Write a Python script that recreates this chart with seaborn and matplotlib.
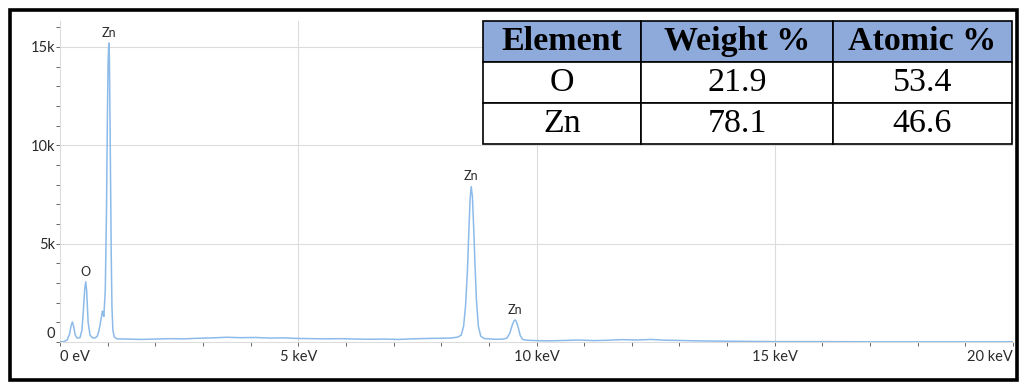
import numpy as np
import pandas as pd
import matplotlib
matplotlib.use("Agg")
import matplotlib.pyplot as plt
from matplotlib import font_manager
from matplotlib.patches import Rectangle
from matplotlib.transforms import ScaledTranslation
from matplotlib.ticker import MultipleLocator, FuncFormatter
import seaborn as sns

# EDS spectrum: energy (keV) and counts (thousands)
energy_kev = [
    0.0, 0.08, 0.15, 0.2, 0.23, 0.26, 0.29, 0.32, 0.36, 0.42, 0.46, 0.49,
    0.52, 0.54, 0.56, 0.59, 0.63, 0.68, 0.73, 0.78, 0.82, 0.85, 0.875, 0.89,
    0.905, 0.92, 0.95, 0.975, 0.995, 1.01, 1.025, 1.035, 1.045, 1.06, 1.075,
    1.09, 1.11, 1.14, 1.2, 1.4, 1.7, 2.0, 2.3, 2.6, 2.9, 3.2, 3.5, 3.8, 4.1,
    4.4, 4.7, 5.0, 5.3, 5.6, 5.9, 6.2, 6.5, 6.8, 7.1, 7.4, 7.7, 8.0, 8.2,
    8.35, 8.42, 8.47, 8.51, 8.55, 8.58, 8.605, 8.63, 8.655, 8.68, 8.71, 8.74,
    8.78, 8.83, 8.9, 9.0, 9.1, 9.2, 9.3, 9.38, 9.44, 9.49, 9.53, 9.555, 9.58,
    9.62, 9.66, 9.71, 9.8, 10.0, 10.3, 10.6, 10.9, 11.2, 11.5, 11.8, 12.1,
    12.4, 12.7, 13.0, 13.3, 13.6, 14.0, 14.5, 15.0, 16.0, 17.0, 18.0, 19.0,
    20.0,
]
counts_k = [
    0.0, 0.02, 0.1, 0.4, 0.8, 1.02, 0.75, 0.35, 0.2, 0.22, 0.6, 1.6,
    2.7, 3.06, 2.6, 1.0, 0.35, 0.22, 0.2, 0.28, 0.6, 1.0, 1.35, 1.57,
    1.45, 1.3, 2.6, 6.5, 11.5, 14.3, 15.2, 14.6, 12.5, 8.5, 4.5,
    1.8, 0.6, 0.25, 0.16, 0.15, 0.13, 0.15, 0.17, 0.16, 0.19, 0.21, 0.24, 0.22, 0.23,
    0.2, 0.21, 0.18, 0.17, 0.16, 0.17, 0.15, 0.14, 0.15, 0.13, 0.16, 0.18, 0.19, 0.2,
    0.25, 0.35, 0.8, 1.8, 3.6, 5.6, 7.2, 7.9, 7.4, 5.9, 3.9, 2.1,
    0.8, 0.3, 0.18, 0.16, 0.14, 0.14, 0.15, 0.2, 0.45, 0.85, 1.08, 1.12, 1.02,
    0.7, 0.32, 0.13, 0.09, 0.07, 0.06, 0.08, 0.1, 0.07, 0.09, 0.12, 0.1,
    0.13, 0.09, 0.08, 0.06, 0.05, 0.04, 0.03, 0.02, 0.02, 0.01, 0.01, 0.01,
    0.01,
]

# Peak identifications
peak_names = ["Zn", "O", "Zn", "Zn"]
peak_energy = [1.025, 0.54, 8.63, 9.555]

# Quantification table
elements = ["O", "Zn"]
weight_pct = ["21.9", "78.1"]
atomic_pct = ["53.4", "46.6"]
table_header = ["Element", "Weight %", "Atomic %"]

x_major = [0, 5, 10, 15, 20]
x_labels = ["0 eV", "5 keV", "10 keV", "15 keV", "20 keV"]
y_major = [0, 5, 10, 15]

sns.set_theme(style="white")
installed = {f.name for f in font_manager.fontManager.ttflist}
narrow = "Liberation Sans Narrow" if "Liberation Sans Narrow" in installed else "Lato"
plt.rcParams["font.family"] = [narrow, "DejaVu Sans"]

W, H = 1023, 388
fig = plt.figure(figsize=(W / 100, H / 100), dpi=100)
fig.patch.set_facecolor("white")

ax = fig.add_axes([60 / W, 46 / H, 953 / W, 320.6 / H])
ax.set_xlim(0, 20)
ax.set_ylim(0, 16.3)

spec = pd.DataFrame({"energy": energy_kev, "counts": counts_k})

grid_c = "#dcdcdc"
for xv in x_major[1:]:
    ax.axvline(xv, color=grid_c, lw=0.8, zorder=0)
for yv in y_major[1:]:
    ax.axhline(yv, color=grid_c, lw=0.8, zorder=0)

sns.lineplot(data=spec, x="energy", y="counts", ax=ax, color="#8cbbea",
             lw=1.1, zorder=3)

for name, e in zip(peak_names, peak_energy):
    idx = int(np.argmin(np.abs(np.array(energy_kev) - e)))
    ax.annotate(name, (energy_kev[idx], counts_k[idx]), xytext=(0, 3),
                textcoords="offset points", ha="center", va="bottom",
                fontsize=9, color="#2a2a2a")

for side in ["top", "right"]:
    ax.spines[side].set_visible(False)
ax.spines["left"].set_color(grid_c)
ax.spines["left"].set_linewidth(0.8)
ax.spines["bottom"].set_color(grid_c)
ax.spines["bottom"].set_linewidth(0.8)

ax.xaxis.set_major_locator(plt.FixedLocator(x_major))
ax.xaxis.set_minor_locator(MultipleLocator(1))
ax.set_xticklabels(x_labels)
ax.yaxis.set_major_locator(plt.FixedLocator(y_major))
ax.yaxis.set_minor_locator(MultipleLocator(1))
ax.yaxis.set_major_formatter(FuncFormatter(lambda v, p: "0" if v == 0 else f"{int(v)}k"))
ax.tick_params(axis="both", which="both", direction="out", length=3,
               width=0.7, color="#666666", labelsize=10.5, labelcolor="#2a2a2a")
ax.tick_params(axis="x", which="both", bottom=True, pad=3)
ax.tick_params(axis="y", which="both", left=True, pad=0.5)
ax.set_xlabel("")
ax.set_ylabel("")

xt = ax.get_xticklabels()
xt[0].set_ha("left")
xt[-1].set_ha("right")
yt = ax.get_yticklabels()
yt[0].set_transform(yt[0].get_transform() +
                    ScaledTranslation(0, 9 / 100, fig.dpi_scale_trans))

# Quantification table
tax = fig.add_axes([483 / W, (H - 144) / H, 529 / W, 123 / H])
tax.axis("off")
rows = [[e, w, a] for e, w, a in zip(elements, weight_pct, atomic_pct)]
tbl = tax.table(cellText=rows, colLabels=table_header, cellLoc="center",
                colWidths=[158, 192, 179], bbox=[0, 0, 1, 1])
tbl.auto_set_font_size(False)
for (r, c), cell in tbl.get_celld().items():
    cell.set_edgecolor("black")
    cell.set_linewidth(1.2)
    txt = cell.get_text()
    txt.set_fontfamily("Liberation Serif")
    txt.set_fontsize(24.5)
    txt.set_color("black")
    if r == 0:
        cell.set_facecolor("#8eaadb")
        txt.set_fontweight("bold")
    else:
        cell.set_facecolor("white")

# Outer frame
fig.patches.append(Rectangle((10 / W, (H - 380) / H), 1007 / W, 370 / H,
                             transform=fig.transFigure, fill=False,
                             edgecolor="black", lw=2.6, zorder=10))

fig.savefig("out.png", dpi=100)
